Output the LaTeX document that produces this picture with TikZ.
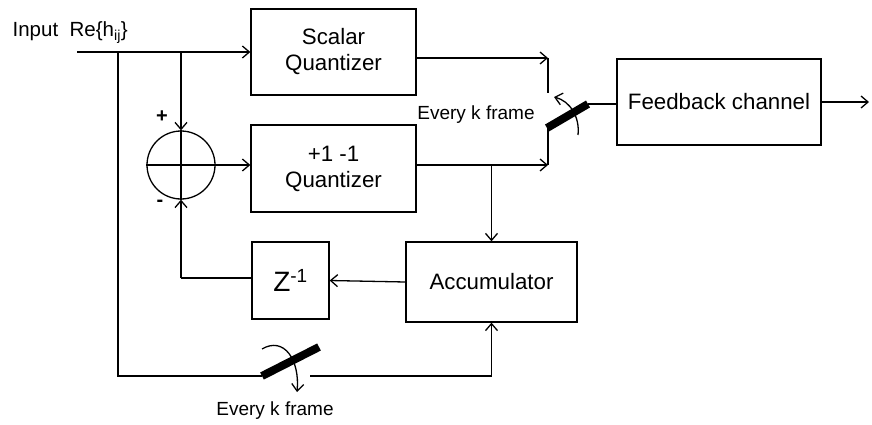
\documentclass[tikz,border=0pt]{standalone}
\usepackage{fontspec}
\setmainfont{Liberation Sans}
\usetikzlibrary{arrows.meta}
\begin{document}
\begin{tikzpicture}[x=1pt,y=-1pt,
  line width=1.3pt,
  arr/.style={-{Straight Barb[length=7pt,width=12pt,line width=1.3pt]}},
  blk/.style={draw,rectangle,inner sep=0pt,align=center,font=\fontsize{22.3}{26}\selectfont},
  blade/.style={line width=8pt},
  lbl/.style={font=\fontsize{19}{22}\selectfont,inner sep=0pt}]
\useasboundingbox (0,0) rectangle (872,425);
% blocks
\node[blk,minimum width=165pt,minimum height=86pt] (sq) at (333.5,52) {Scalar\\Quantizer};
\node[blk,minimum width=165pt,minimum height=87pt] (pq) at (333.5,168.5) {+1 -1\\Quantizer};
\node[blk,minimum width=204pt,minimum height=86pt] (fb) at (719,102) {Feedback channel};
\node[blk,minimum width=77pt,minimum height=77pt,font=\fontsize{28}{30}\selectfont] (z) at (290.5,280.5) {Z\textsuperscript{\fontsize{19}{20}\selectfont -1}};
\node[blk,minimum width=171pt,minimum height=80pt] (acc) at (491.5,282) {Accumulator};
\node[draw,circle,minimum size=68pt,inner sep=0pt] (sum) at (181,165) {};
\draw (sum.west) -- (sum.east);
\draw (sum.north) -- (sum.south);
% labels
\node[font=\fontsize{20.5}{24}\selectfont,anchor=base west,inner sep=0pt] (inp) at (12,37) {Input\ \ Re\{h\textsubscript{ij}\}};
\node[font=\bfseries\fontsize{20}{22}\selectfont,inner sep=0pt] (plus) at (162,117) {+};
\node[font=\bfseries\fontsize{20}{22}\selectfont,inner sep=0pt] (minus) at (160,203) {-};
\node[lbl] (ek1) at (476,115) {Every k frame};
\node[lbl] (ek2) at (275,411) {Every k frame};
% coordinates
\coordinate (in) at (77,52);
\coordinate (b1) at (118,52);
\coordinate (b2) at (181,52);
\coordinate (c1) at (548,58);
\coordinate (c1e) at (548,93);
\coordinate (c2) at (548,165);
\coordinate (c2e) at (548,127);
\coordinate (sw) at (588,104);
\coordinate (out) at (869,102);
\coordinate (br) at (491.5,165);
\coordinate (fbk) at (181,278);
\coordinate (bl) at (118,376);
\coordinate (bs1) at (262,376);
\coordinate (bs2) at (319,347);
\coordinate (bs3) at (310,376);
\coordinate (bc) at (491.5,376);
% connections
\draw[arr] (in) -- (sq.west);
\draw[arr] (b2) -- (sum.north);
\draw[arr] (sum.east) -- (sum.east -| pq.west);
\draw[arr] (sq.east |- c1) -- (c1);
\draw (c1) -- (c1e);
\draw[arr] (pq.east |- c2) -- (c2);
\draw (c2) -- (c2e);
\draw[blade] (547,128) -- (sw);
\draw (sw) -- (sw -| fb.west);
\draw[arr] (fb.east |- out) -- (out);
\draw[arr] (578,135) .. controls (580,117) and (570,101) .. (554,97);
\draw[arr] (br) -- (acc.north);
\draw[arr] (acc.west) -- (z.east);
\draw (z.west |- fbk) -- (fbk);
\draw[arr] (fbk) -- (sum.south);
\draw (b1) -- (bl) -- (bs1);
\draw[blade] (bs1) -- (bs2);
\draw (bs3) -- (bc);
\draw[arr] (bc) -- (acc.south);
\draw[arr] (262,349) .. controls (284,336) and (300,360) .. (297,392);
\end{tikzpicture}
\end{document}
